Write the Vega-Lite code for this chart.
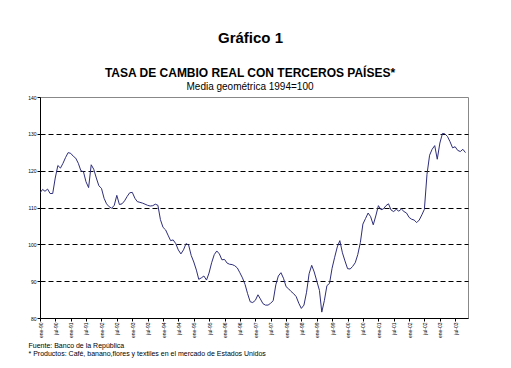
{
  "$schema": "https://vega.github.io/schema/vega-lite/v6.json",
  "width": 428,
  "height": 221,
  "autosize": {"type": "none"},
  "padding": {"left": 40, "top": 97, "right": 43, "bottom": 50},
  "background": "white",
  "config": {
    "font": "Liberation Sans",
    "view": {"stroke": "#888888", "strokeWidth": 1}
  },
  "title": {
    "text": "TASA DE CAMBIO REAL CON TERCEROS PAÍSES*",
    "subtitle": "Media geométrica 1994=100",
    "frame": "group",
    "anchor": "middle",
    "dx": -4,
    "dy": 69,
    "fontSize": 12,
    "fontWeight": "bold",
    "color": "black",
    "subtitleFontSize": 10,
    "subtitleColor": "black",
    "subtitlePadding": 2,
    "offset": 6
  },
  "data": {
    "values": [
      {"d": "1990-01-01", "v": 114.0}, {"d": "1990-02-01", "v": 114.9}, {"d": "1990-03-01", "v": 114.4}, {"d": "1990-04-01", "v": 115.0},
      {"d": "1990-05-01", "v": 113.8}, {"d": "1990-06-01", "v": 113.8}, {"d": "1990-07-01", "v": 118.0}, {"d": "1990-08-01", "v": 121.4},
      {"d": "1990-09-01", "v": 120.7}, {"d": "1990-10-01", "v": 122.0}, {"d": "1990-11-01", "v": 123.6}, {"d": "1990-12-01", "v": 124.9},
      {"d": "1991-01-01", "v": 124.7}, {"d": "1991-02-01", "v": 123.9}, {"d": "1991-03-01", "v": 123.4}, {"d": "1991-04-01", "v": 122.0},
      {"d": "1991-05-01", "v": 120.0}, {"d": "1991-06-01", "v": 119.7}, {"d": "1991-07-01", "v": 117.0}, {"d": "1991-08-01", "v": 115.4},
      {"d": "1991-09-01", "v": 121.6}, {"d": "1991-10-01", "v": 120.4}, {"d": "1991-11-01", "v": 118.0}, {"d": "1991-12-01", "v": 115.9},
      {"d": "1992-01-01", "v": 115.2}, {"d": "1992-02-01", "v": 112.5}, {"d": "1992-03-01", "v": 111.0}, {"d": "1992-04-01", "v": 110.2},
      {"d": "1992-05-01", "v": 109.8}, {"d": "1992-06-01", "v": 110.6}, {"d": "1992-07-01", "v": 113.3}, {"d": "1992-08-01", "v": 110.8},
      {"d": "1992-09-01", "v": 111.0}, {"d": "1992-10-01", "v": 111.8}, {"d": "1992-11-01", "v": 113.0}, {"d": "1992-12-01", "v": 114.0},
      {"d": "1993-01-01", "v": 114.1}, {"d": "1993-02-01", "v": 112.5}, {"d": "1993-03-01", "v": 111.6}, {"d": "1993-04-01", "v": 111.4},
      {"d": "1993-05-01", "v": 111.2}, {"d": "1993-06-01", "v": 110.9}, {"d": "1993-07-01", "v": 110.6}, {"d": "1993-08-01", "v": 110.4},
      {"d": "1993-09-01", "v": 110.5}, {"d": "1993-10-01", "v": 110.9}, {"d": "1993-11-01", "v": 110.6}, {"d": "1993-12-01", "v": 106.7},
      {"d": "1994-01-01", "v": 104.6}, {"d": "1994-02-01", "v": 103.9}, {"d": "1994-03-01", "v": 102.5}, {"d": "1994-04-01", "v": 101.0},
      {"d": "1994-05-01", "v": 101.2}, {"d": "1994-06-01", "v": 100.2}, {"d": "1994-07-01", "v": 98.5}, {"d": "1994-08-01", "v": 97.4},
      {"d": "1994-09-01", "v": 98.5}, {"d": "1994-10-01", "v": 100.2}, {"d": "1994-11-01", "v": 99.8}, {"d": "1994-12-01", "v": 97.0},
      {"d": "1995-01-01", "v": 95.2}, {"d": "1995-02-01", "v": 93.0}, {"d": "1995-03-01", "v": 90.5}, {"d": "1995-04-01", "v": 90.9},
      {"d": "1995-05-01", "v": 91.4}, {"d": "1995-06-01", "v": 90.3}, {"d": "1995-07-01", "v": 92.2}, {"d": "1995-08-01", "v": 95.0},
      {"d": "1995-09-01", "v": 97.2}, {"d": "1995-10-01", "v": 98.2}, {"d": "1995-11-01", "v": 97.4}, {"d": "1995-12-01", "v": 95.8},
      {"d": "1996-01-01", "v": 95.9}, {"d": "1996-02-01", "v": 94.9}, {"d": "1996-03-01", "v": 94.6}, {"d": "1996-04-01", "v": 94.5},
      {"d": "1996-05-01", "v": 94.2}, {"d": "1996-06-01", "v": 93.6}, {"d": "1996-07-01", "v": 92.3}, {"d": "1996-08-01", "v": 90.9},
      {"d": "1996-09-01", "v": 89.1}, {"d": "1996-10-01", "v": 86.6}, {"d": "1996-11-01", "v": 84.4}, {"d": "1996-12-01", "v": 84.2},
      {"d": "1997-01-01", "v": 84.8}, {"d": "1997-02-01", "v": 86.3}, {"d": "1997-03-01", "v": 85.2}, {"d": "1997-04-01", "v": 83.9},
      {"d": "1997-05-01", "v": 83.5}, {"d": "1997-06-01", "v": 83.5}, {"d": "1997-07-01", "v": 84.0}, {"d": "1997-08-01", "v": 84.7},
      {"d": "1997-09-01", "v": 89.0}, {"d": "1997-10-01", "v": 91.4}, {"d": "1997-11-01", "v": 92.3}, {"d": "1997-12-01", "v": 90.8},
      {"d": "1998-01-01", "v": 88.5}, {"d": "1998-02-01", "v": 87.9}, {"d": "1998-03-01", "v": 87.2}, {"d": "1998-04-01", "v": 86.6},
      {"d": "1998-05-01", "v": 85.8}, {"d": "1998-06-01", "v": 84.0}, {"d": "1998-07-01", "v": 82.6}, {"d": "1998-08-01", "v": 83.5},
      {"d": "1998-09-01", "v": 87.0}, {"d": "1998-10-01", "v": 92.0}, {"d": "1998-11-01", "v": 94.3}, {"d": "1998-12-01", "v": 92.5},
      {"d": "1999-01-01", "v": 90.0}, {"d": "1999-02-01", "v": 87.5}, {"d": "1999-03-01", "v": 81.6}, {"d": "1999-04-01", "v": 84.8},
      {"d": "1999-05-01", "v": 88.8}, {"d": "1999-06-01", "v": 89.4}, {"d": "1999-07-01", "v": 93.5}, {"d": "1999-08-01", "v": 96.5},
      {"d": "1999-09-01", "v": 99.3}, {"d": "1999-10-01", "v": 101.0}, {"d": "1999-11-01", "v": 97.7}, {"d": "1999-12-01", "v": 95.5},
      {"d": "2000-01-01", "v": 93.4}, {"d": "2000-02-01", "v": 93.3}, {"d": "2000-03-01", "v": 94.0}, {"d": "2000-04-01", "v": 95.0},
      {"d": "2000-05-01", "v": 97.2}, {"d": "2000-06-01", "v": 100.5}, {"d": "2000-07-01", "v": 105.5}, {"d": "2000-08-01", "v": 107.0},
      {"d": "2000-09-01", "v": 108.5}, {"d": "2000-10-01", "v": 107.5}, {"d": "2000-11-01", "v": 105.3}, {"d": "2000-12-01", "v": 107.7},
      {"d": "2001-01-01", "v": 110.5}, {"d": "2001-02-01", "v": 109.4}, {"d": "2001-03-01", "v": 109.6}, {"d": "2001-04-01", "v": 110.5},
      {"d": "2001-05-01", "v": 111.0}, {"d": "2001-06-01", "v": 109.3}, {"d": "2001-07-01", "v": 108.9}, {"d": "2001-08-01", "v": 109.5},
      {"d": "2001-09-01", "v": 109.0}, {"d": "2001-10-01", "v": 109.6}, {"d": "2001-11-01", "v": 108.9}, {"d": "2001-12-01", "v": 108.5},
      {"d": "2002-01-01", "v": 107.3}, {"d": "2002-02-01", "v": 106.8}, {"d": "2002-03-01", "v": 106.6}, {"d": "2002-04-01", "v": 105.9},
      {"d": "2002-05-01", "v": 106.6}, {"d": "2002-06-01", "v": 108.0}, {"d": "2002-07-01", "v": 109.5}, {"d": "2002-08-01", "v": 119.0},
      {"d": "2002-09-01", "v": 124.2}, {"d": "2002-10-01", "v": 125.8}, {"d": "2002-11-01", "v": 126.8}, {"d": "2002-12-01", "v": 123.1},
      {"d": "2003-01-01", "v": 127.5}, {"d": "2003-02-01", "v": 130.1}, {"d": "2003-03-01", "v": 130.0}, {"d": "2003-04-01", "v": 129.3},
      {"d": "2003-05-01", "v": 127.9}, {"d": "2003-06-01", "v": 126.2}, {"d": "2003-07-01", "v": 126.5}, {"d": "2003-08-01", "v": 125.5},
      {"d": "2003-09-01", "v": 125.2}, {"d": "2003-10-01", "v": 125.8}, {"d": "2003-11-01", "v": 124.9}
    ]
  },
  "mark": {"type": "line", "color": "#2e2e7a", "strokeWidth": 1, "clip": true},
  "encoding": {
    "x": {
      "field": "d",
      "type": "temporal",
      "scale": {
        "type": "utc",
        "domain": [{"year": 1990, "month": 1, "date": 1, "utc": true}, {"year": 2003, "month": 12, "date": 1, "utc": true}]
      },
      "axis": {
        "tickCount": {"interval": "month", "step": 6},
        "labelExpr": "(utcFormat(datum.value, '%m') == '01' ? 'ene-' : 'jul-') + utcFormat(datum.value, '%y')",
        "labelAngle": -90,
        "labelAlign": "right",
        "labelBaseline": "middle",
        "labelFontSize": 5,
        "labelColor": "black",
        "labelOverlap": false,
        "labelFlush": false,
        "labelPadding": 1,
        "tickSize": 3,
        "tickColor": "black",
        "domainColor": "black",
        "grid": false,
        "title": ["Fuente: Banco de la República", "* Productos: Café, banano,flores y textiles en el mercado de Estados Unidos"],
        "titleFontSize": 7,
        "titleFontWeight": "normal",
        "titleColor": "black",
        "titleAngle": 0,
        "titleAlign": "left",
        "titleBaseline": "top",
        "titleX": -12,
        "titleY": 23,
        "titleLineHeight": 8
      }
    },
    "y": {
      "field": "v",
      "type": "quantitative",
      "scale": {"domain": [80, 140], "nice": false, "zero": false},
      "axis": {
        "values": [80, 90, 100, 110, 120, 130, 140],
        "labelFontSize": 5,
        "labelColor": "black",
        "labelPadding": 1,
        "tickSize": 3,
        "tickColor": "black",
        "domainColor": "black",
        "grid": true,
        "gridColor": {"condition": {"test": "datum.value == 140 || datum.value == 80", "value": "transparent"}, "value": "black"},
        "gridDash": [5, 3],
        "gridWidth": 1,
        "title": "Gráfico 1",
        "titleFontSize": 15,
        "titleFontWeight": "bold",
        "titleColor": "black",
        "titleAngle": 0,
        "titleAlign": "center",
        "titleBaseline": "alphabetic",
        "titleX": 210,
        "titleY": -55
      }
    }
  }
}
